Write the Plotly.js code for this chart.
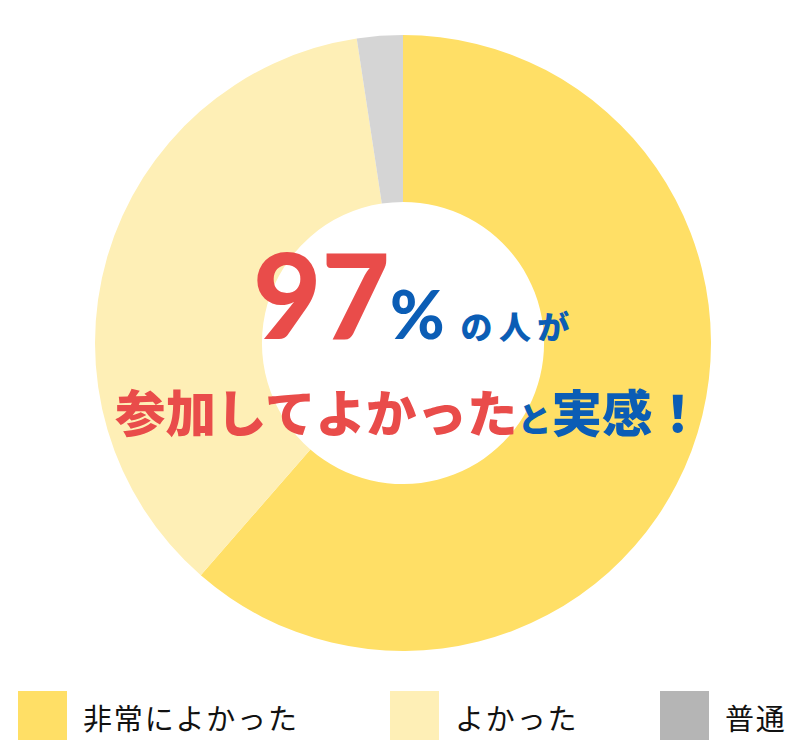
<!DOCTYPE html>
<html>
<head>
<meta charset="utf-8">
<script src="https://cdn.plot.ly/plotly-3.0.1.min.js"></script>
<style>
  html, body { margin: 0; padding: 0; background: #fff; }
  #chart { width: 800px; height: 756px; }
</style>
</head>
<body>
<div id="chart"></div>
<script>
// answers, share of participants (%)
const labels = ['非常によかった', 'よかった', '普通'];
const values = [61.4, 36.2, 2.4];
const headline = '97';

const sliceColors = ['#FFDF66', '#FEEFB6', '#D5D5D5'];
const keyColors = ['#FFDF66', '#FEEFB6', '#B5B5B5'];
const keyX = [18, 390, 660]; // left edge of each key square, px

const W = 800, H = 756;
const px = v => v / W;
const py = v => (H - v) / H;

const red = '#E94C4A', blue = '#0B5DB5';

let data = [{
    type: 'pie',
    labels: labels,
    values: values,
    sort: false,
    direction: 'clockwise',
    rotation: 0,
    hole: 0.458,
    textinfo: 'none',
    hoverinfo: 'label+percent',
    marker: { colors: sliceColors, line: { width: 0 } },
    domain: { x: [px(95), px(711)], y: [py(651), py(35)] },
    showlegend: false
}];

let shapes = [], annotations = [];
labels.forEach((lab, i) => {
    shapes.push({
        type: 'rect', xref: 'paper', yref: 'paper',
        x0: px(keyX[i]), x1: px(keyX[i] + 49),
        y0: py(740), y1: py(691),
        fillcolor: keyColors[i], line: { width: 0 }
    });
    annotations.push({
        xref: 'paper', yref: 'paper',
        x: px(keyX[i] + 63), y: py(717),
        xanchor: 'left', yanchor: 'middle',
        text: lab.split('').join('\u200a'), showarrow: false,
        font: { family: 'Noto Sans CJK JP', size: 29, color: '#111111', weight: 400 }
    });
});

// centre message
annotations.push({
    xref: 'paper', yref: 'paper',
    x: px(411), y: py(293),
    xanchor: 'center', yanchor: 'middle', showarrow: false,
    text: '<span style="font-family:Lato;font-weight:900;font-size:118px;fill:' + red + '">' + headline + '</span>' +
          '<span style="font-family:Lato;font-weight:900;font-size:66px">%</span>' +
          '<span style="font-size:32px">\u2002の\u2009人\u2009が</span>',
    font: { family: 'Noto Sans CJK JP', size: 32, color: blue, weight: 900 }
});
annotations.push({
    xref: 'paper', yref: 'paper',
    x: px(409), y: py(410),
    xanchor: 'center', yanchor: 'middle', showarrow: false,
    text: '<span style="fill:' + red + '">参加してよかった</span>' +
          '<span style="font-size:34px">と</span>実感！',
    font: { family: 'Noto Sans CJK JP', size: 50.5, color: blue, weight: 900 }
});

let layout = {
    width: W, height: H,
    margin: { l: 0, r: 0, t: 0, b: 0 },
    paper_bgcolor: '#ffffff',
    shapes: shapes,
    annotations: annotations
};

Plotly.newPlot('chart', data, layout, { displayModeBar: false, staticPlot: true });
</script>
</body>
</html>
